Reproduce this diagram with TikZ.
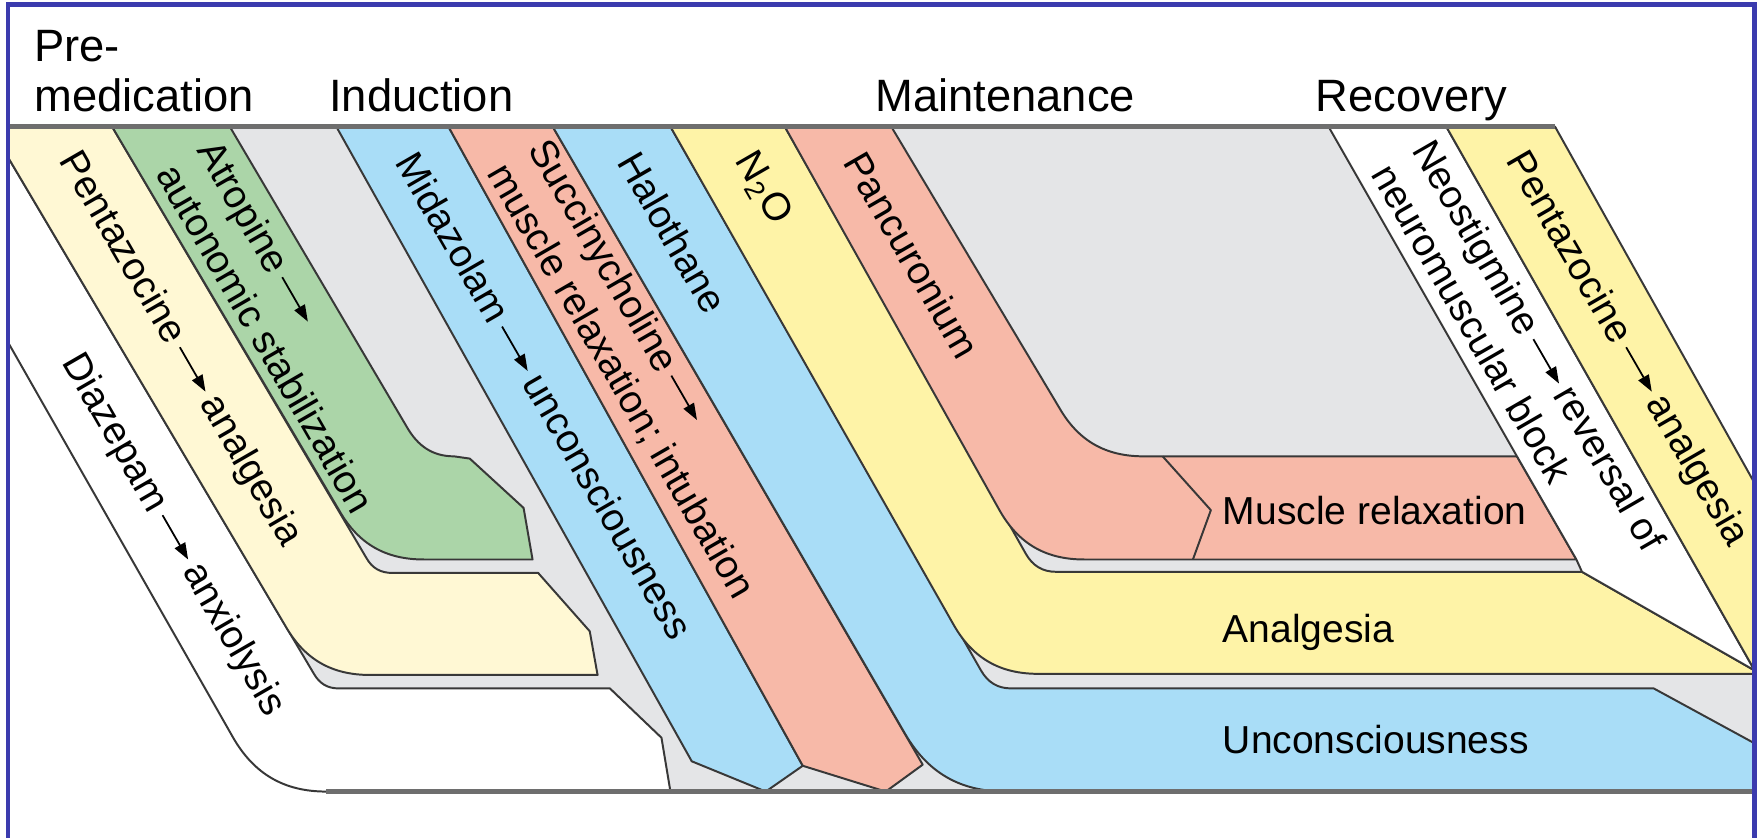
\documentclass[tikz,border=0pt]{standalone}
\usepackage{amsmath}
\usepackage{fontspec}
\setmainfont{Liberation Sans}
\usetikzlibrary{arrows.meta}

\definecolor{bggray}{HTML}{E4E5E7}
\definecolor{paleyellow}{HTML}{FFF8D4}
\definecolor{atrgreen}{HTML}{ABD5A8}
\definecolor{skyblue}{HTML}{A9DDF7}
\definecolor{relaxpink}{HTML}{F7B9A8}
\definecolor{gasyellow}{HTML}{FEF3A7}
\definecolor{edgegray}{HTML}{383838}
\definecolor{rulegray}{HTML}{6E6E6E}
\definecolor{frameblue}{HTML}{3B3BAE}

\newcommand{\drugto}{\,\tikz[baseline=-0.55ex]\draw[line width=0.45pt,-{Triangle[length=4.2pt,width=3pt]}] (0pt,0pt) -- (13pt,0pt);\,}

\tikzset{
  band/.style={draw=edgegray, line width=0.5pt, line join=round},
  druglabel/.style={inner sep=0pt, anchor=west, rotate=-60, font=\fontsize{9.9}{12}\selectfont},
  efflabel/.style={inner sep=0pt, anchor=base west, font=\fontsize{9.9}{12}\selectfont},
  phase/.style={inner sep=0pt, anchor=base west, font=\fontsize{11.5}{13}\selectfont},
  phaserule/.style={draw=rulegray, line width=1.3pt},
}

\begin{document}
\begin{tikzpicture}[x=0.01cm,y=-0.01cm]
\useasboundingbox (0,0) rectangle (1568,747);

% grey ground behind the bands
\fill[bggray] (7,113) -- (1387,113) -- (1565,431) -- (1565,706) -- (330,706) -- (7,140) -- cycle;

% premedication
\filldraw[band, fill=white] (7,305) -- (208,658) to[out=-60,in=180] (291,706) -- (598,706) -- (590,658) -- (544,614) -- (302,614) to[out=180,in=-60] (280,601) -- (7,140);
\filldraw[band, fill=paleyellow] (7,140) -- (255,559) to[out=-60,in=180] (330,602) -- (533,602) -- (526,563) -- (480,511) -- (350,511) to[out=180,in=-60] (327,498) -- (100,113) -- (7,113);
\filldraw[band, fill=atrgreen] (100,113) -- (205,113) -- (363,381) to[out=-60,in=180] (405,407) -- (419,409) -- (467,453) -- (475,499) -- (378,499) to[out=180,in=-60] (303,456) -- cycle;

% induction
\filldraw[band, fill=skyblue] (300,113) -- (400,113) -- (716,683) -- (683,706) -- (617,679) -- cycle;
\filldraw[band, fill=relaxpink] (400,113) -- (493,113) -- (823,682) -- (790,706) -- (716,683) -- cycle;

% maintenance
\filldraw[band, fill=skyblue] (493,113) -- (598,113) -- (875,598) to[out=-60,in=180] (902,614) -- (1475,614) -- (1565,663) -- (1565,706) -- (897,706) to[out=180,in=-60] (807,654) -- cycle;
\filldraw[band, fill=gasyellow] (598,113) -- (700,113) -- (915,494) to[out=-60,in=180] (942,510) -- (1411,510) -- (1565,598) -- (1565,601) -- (926,601) to[out=180,in=-60] (851,558) -- cycle;
\filldraw[band, fill=relaxpink] (700,113) -- (795,113) -- (945,364) to[out=-60,in=180] (1020,407) -- (1353,407) -- (1406,499) -- (967,499) to[out=180,in=-60] (892,456) -- cycle;
\draw[band] (1037,407) -- (1080,455) -- (1064,499);

% recovery
\filldraw[band, fill=white] (1185,113) -- (1290,113) -- (1565,598) -- (1411,510) -- (1406,499) -- (1353,407) -- cycle;
\filldraw[band, fill=gasyellow] (1290,113) -- (1387,113) -- (1565,431) -- (1565,598) -- cycle;

\draw[phaserule] (7,113) -- (1387,113);
\draw[phaserule] (291,706) -- (1565,706);

% phases
\node[phase] (pre) at (30,55) {Pre-};
\node[phase] (premed) at (30,99) {medication};
\node[phase] (induct) at (293,99) {Induction};
\node[phase] (maint) at (780,99) {Maintenance};
\node[phase] (recov) at (1173,99) {Recovery};

% drugs
\node[druglabel] (prepent) at (60,138) {Pentazocine\drugto analgesia};
\node[druglabel] (diaz) at (62,318) {Diazepam\drugto anxiolysis};
\node[druglabel, align=left] (atro) at (167,138) {Atropine\drugto\\autonomic stabilization};
\node[druglabel] (mida) at (362,138) {Midazolam\drugto unconsciousness};
\node[druglabel, align=left] (succ) at (461,138) {Succinycholine\drugto\\muscle relaxation; intubation};
\node[druglabel] (halo) at (560,138) {Halothane};
\node[druglabel] (nitro) at (663,138) {N\textsubscript{2}O};
\node[druglabel] (pancu) at (762,138) {Pancuronium};
\node[druglabel, align=left] (neo) at (1251,138) {Neostigmine\drugto reversal of\\neuromuscular block};
\node[druglabel] (recpent) at (1350,138) {Pentazocine\drugto analgesia};

% effects
\node[efflabel] (relax) at (1090,468) {Muscle relaxation};
\node[efflabel] (analg) at (1090,573) {Analgesia};
\node[efflabel] (uncon) at (1090,672) {Unconsciousness};

\draw[frameblue, line width=1.1pt] (7,760) -- (7,4) -- (1565,4) -- (1565,760);
\end{tikzpicture}
\end{document}
